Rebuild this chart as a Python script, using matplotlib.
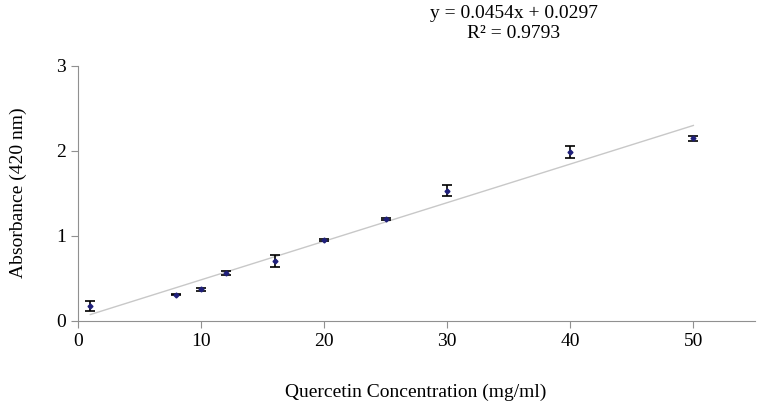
import numpy as np
import matplotlib.pyplot as plt

plt.rcParams['font.family'] = ['Liberation Serif', 'DejaVu Serif']

# quercetin standard curve
conc = [1, 8, 10, 12, 16, 20, 25, 30, 40, 50]
absorb = [0.18, 0.31, 0.37, 0.56, 0.71, 0.95, 1.20, 1.53, 1.99, 2.15]
err = [0.06, 0.01, 0.015, 0.025, 0.07, 0.01, 0.01, 0.065, 0.07, 0.03]
slope, intercept = 0.0454, 0.0297

fig = plt.figure(figsize=(7.61, 4.12), dpi=100)
ax = fig.add_axes([0.1025, 0.221, 0.8895, 0.619])

xs = np.array([min(conc), max(conc)])
ax.plot(xs, slope * xs + intercept, color='#c8c8c8', lw=1)
ax.errorbar(conc, absorb, yerr=err, fmt='D', ms=2.5, color='#1f1f7a',
            ecolor='black', elinewidth=1.2, capsize=3.5, capthick=1.2)

ax.set_xlim(0, 55)
ax.set_ylim(0, 3)
ax.set_xticks([0, 10, 20, 30, 40, 50])
ax.set_yticks([0, 1, 2, 3])
for s in ['top', 'right']:
    ax.spines[s].set_visible(False)
for s in ['left', 'bottom']:
    ax.spines[s].set_color('#909090')
ax.tick_params(colors='#909090', labelcolor='black', labelsize=14, length=5)

fig.text(18 / 761, 1 - 193 / 412, 'Absorbance (420 nm)', fontsize=14,
         rotation=90, ha='center', va='center')
fig.text(416 / 761, 1 - 392 / 412, 'Quercetin Concentration (mg/ml)', fontsize=14,
         ha='center', va='center')

fig.text(0.675, 1 - 14 / 412, 'y = 0.0454x + 0.0297', fontsize=14, ha='center', va='center')
fig.text(0.675, 1 - 34 / 412, 'R\u00b2 = 0.9793', fontsize=14, ha='center', va='center')

fig.savefig('out.png', dpi=100)
